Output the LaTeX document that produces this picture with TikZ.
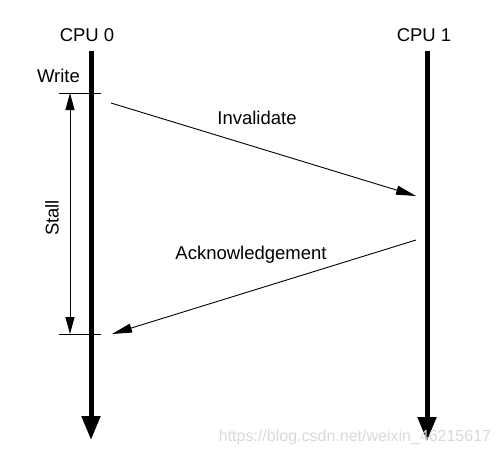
\documentclass[tikz,border=0pt]{standalone}
\usepackage{fontspec}
\setmainfont{Liberation Sans}
\usetikzlibrary{arrows.meta}
\begin{document}
\begin{tikzpicture}[x=1pt,y=-1pt,
  lbl/.style={inner sep=0pt, font=\fontsize{18.5}{22}\selectfont},
  timeline/.style={line width=5pt, -{Triangle[width=18pt,length=24pt]}},
  tick/.style={line width=1pt},
  msg/.style={line width=0.9pt, -{Triangle[width=9pt,length=20pt]}},
  span/.style={line width=1pt, {Triangle[width=9pt,length=17pt]}-{Triangle[width=9pt,length=17pt]}},
  urltext/.style={inner sep=0pt, text=gray!30, font=\fontsize{16}{18}\selectfont}]
\useasboundingbox (0,0) rectangle (500,455);

% processor labels and their time lines
\node[lbl] (cpu0) at (87,35) {CPU 0};
\node[lbl] (cpu1) at (424,35) {CPU 1};
\coordinate (c0top) at (91,51);
\coordinate (c0end) at (91,440);
\coordinate (c1top) at (427,51);
\coordinate (c1end) at (427,441);
\draw[timeline] (c0top) -- (c0end);
\draw[timeline] (c1top) -- (c1end);

% write and stall interval on CPU 0
\node[lbl] (write) at (58.5,76) {Write};
\coordinate (t1l) at (59,93);
\coordinate (t1r) at (101,93);
\coordinate (t2l) at (59,334);
\coordinate (t2r) at (101,334);
\draw[tick] (t1l) -- (t1r);
\draw[tick] (t2l) -- (t2r);
\coordinate (s1) at (70,93);
\coordinate (s2) at (70,334);
\draw[span] (s1) -- (s2);
\node[lbl, rotate=90] (stall) at (52,218) {Stall};

% messages between the processors
\coordinate (invA) at (111,103);
\coordinate (invB) at (416,196);
\draw[msg] (invA) -- (invB);
\node[lbl] (inv) at (257,118) {Invalidate};
\coordinate (ackA) at (416,240);
\coordinate (ackB) at (112,334);
\draw[msg] (ackA) -- (ackB);
\node[lbl] (ack) at (251,255) {Acknowledgement};

\node[urltext] (url) at (355,437) {https://blog.csdn.net/weixin\_46215617};
\end{tikzpicture}
\end{document}
